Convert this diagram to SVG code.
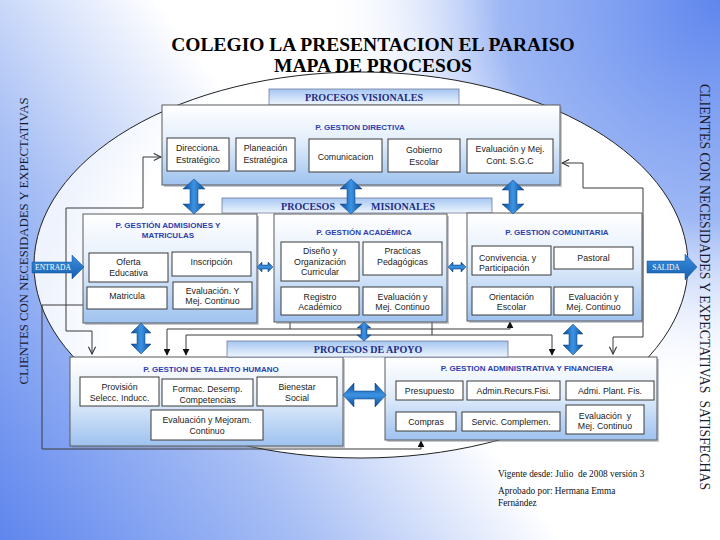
<svg xmlns="http://www.w3.org/2000/svg" width="720" height="540" viewBox="0 0 720 540">
<defs>
<linearGradient id="gBgL" gradientUnits="userSpaceOnUse" x1="0" y1="540" x2="360" y2="270">
<stop offset="0" stop-color="#5f86ee"/><stop offset="0.55" stop-color="#a9c0f5"/><stop offset="1" stop-color="#ffffff"/>
</linearGradient>
<radialGradient id="gBgR" gradientUnits="userSpaceOnUse" cx="720" cy="0" r="400">
<stop offset="0" stop-color="#5f86ee" stop-opacity="1"/><stop offset="0.55" stop-color="#86a6f2" stop-opacity="0.8"/><stop offset="1" stop-color="#ffffff" stop-opacity="0"/>
</radialGradient>
<radialGradient id="gEll" gradientUnits="userSpaceOnUse" cx="400" cy="330" r="360">
<stop offset="0" stop-color="#ffffff"/><stop offset="0.8" stop-color="#ffffff"/><stop offset="1" stop-color="#eef3fd"/>
</radialGradient>
<linearGradient id="gPanel" x1="0" y1="0" x2="0" y2="1">
<stop offset="0" stop-color="#ffffff"/><stop offset="0.45" stop-color="#e3eefb"/><stop offset="1" stop-color="#9ec2ef"/>
</linearGradient>
<linearGradient id="gHdr" x1="0" y1="0" x2="0" y2="1">
<stop offset="0" stop-color="#a6c6f2"/><stop offset="1" stop-color="#eef5fd"/>
</linearGradient>
<linearGradient id="gArrV" x1="0" y1="0" x2="1" y2="0">
<stop offset="0" stop-color="#0a4a96"/><stop offset="0.5" stop-color="#3d94e4"/><stop offset="1" stop-color="#0a4a96"/>
</linearGradient>
<linearGradient id="gArrH" x1="0" y1="0" x2="0" y2="1">
<stop offset="0" stop-color="#0a4a96"/><stop offset="0.5" stop-color="#3d94e4"/><stop offset="1" stop-color="#0a4a96"/>
</linearGradient>
<linearGradient id="gIO" x1="0" y1="0" x2="0" y2="1">
<stop offset="0" stop-color="#3b8fe0"/><stop offset="1" stop-color="#155fae"/>
</linearGradient>
<marker id="ao" viewBox="0 0 10 10" refX="9" refY="5" markerWidth="9" markerHeight="9" markerUnits="userSpaceOnUse" orient="auto-start-reverse">
<path d="M1,1 L9,5 L1,9" fill="none" stroke="#333" stroke-width="1.2"/>
</marker>
<marker id="af" viewBox="0 0 10 10" refX="9" refY="5" markerWidth="7" markerHeight="7" markerUnits="userSpaceOnUse" orient="auto-start-reverse">
<path d="M0,0 L10,5 L0,10 Z" fill="#111"/>
</marker>
<style>
.panel{fill:url(#gPanel);stroke:#5a5a5a;stroke-width:1}
.sh{fill:#7d8799;opacity:0.45}
.box{fill:#ffffff;stroke:#3a3a3a;stroke-width:1}
.t{font-family:"Liberation Sans",Arial,sans-serif;font-size:8.8px;fill:#222;text-anchor:middle}
.tl{font-family:"Liberation Sans",Arial,sans-serif;font-size:8.8px;fill:#222}
.pt{font-family:"Liberation Sans",Arial,sans-serif;font-weight:bold;font-size:8px;fill:#2b3fae;text-anchor:middle}
.hdr{fill:url(#gHdr);stroke:#6d7c9c;stroke-width:0.8}
.ht{font-family:"Liberation Serif","Times New Roman",serif;font-weight:bold;font-size:10px;fill:#1c2c86;text-anchor:middle}
.conn{fill:none;stroke:#3a3a3a;stroke-width:1}
.dv{fill:url(#gArrV);stroke:#0a3d7c;stroke-width:0.5}
.dh{fill:url(#gArrH);stroke:#0a3d7c;stroke-width:0.5}
.io{fill:url(#gIO);stroke:#0f4f95;stroke-width:0.5}
.iot{font-family:"Liberation Serif","Times New Roman",serif;font-size:7.5px;fill:#ffffff;text-anchor:middle}
.side{font-family:"Liberation Serif","Times New Roman",serif;fill:#1a1a2e;text-anchor:middle}
.ttl{font-family:"Liberation Serif","Times New Roman",serif;font-weight:bold;font-size:19.5px;fill:#000;text-anchor:middle}
.foot{font-family:"Liberation Serif","Times New Roman",serif;font-size:9.3px;fill:#111}
</style>
</defs>

<g id="background">
<rect x="0" y="0" width="720" height="540" fill="url(#gBgL)"/>
<rect x="0" y="0" width="720" height="540" fill="url(#gBgR)"/>
<ellipse cx="361" cy="265" rx="327" ry="193" fill="url(#gEll)" stroke="#222" stroke-width="1"/>
</g>

<g id="title">
<text class="ttl" x="373" y="51">COLEGIO LA PRESENTACION EL PARAISO</text>
<text class="ttl" x="373" y="72">MAPA DE PROCESOS</text>
</g>

<g id="side-texts">
<text class="side" font-size="12.8" transform="translate(28,241) rotate(-90)">CLIENTES CON NECESIDADES Y EXPECTATIVAS</text>
<text class="side" font-size="13.8" xml:space="preserve" transform="translate(700,287) rotate(90)">CLIENTES CON NECESIDADES Y EXPECTATIVAS  SATISFECHAS</text>
</g>

<g id="connectors">
<polyline class="conn" points="92,354 92,331 66,331 66,208 143,208 143,157 161,157" marker-start="url(#ao)" marker-end="url(#ao)"/>
<polyline class="conn" points="613,354 613,337 643,337 643,188 583,188 583,163 562,163" marker-start="url(#ao)" marker-end="url(#ao)"/>
<polyline class="conn" points="167,355 167,329 510,329 510,322" marker-start="url(#af)" marker-end="url(#af)"/>
<polyline class="conn" points="290,329 290,322"/>
<polyline class="conn" points="186,355 186,335 552,335 552,355" marker-start="url(#af)" marker-end="url(#af)"/>
<polyline class="conn" points="432,335 432,322"/>
<polyline class="conn" points="83,305 42,305 42,449 421,449 421,441" marker-end="url(#af)"/>
</g>

<g id="hdr-visionales">
<rect class="hdr" x="269" y="89" width="190" height="16"/>
<text class="ht" x="364" y="101">PROCESOS VISIONALES</text>
</g>

<g id="p-directiva">
<rect class="sh" x="164" y="107" width="398" height="80"/>
<rect class="panel" x="162" y="105" width="398" height="80"/>
<text class="pt" x="360" y="130">P. GESTION DIRECTIVA</text>
<rect class="box" x="167" y="138" width="62" height="33"/>
<text class="t" x="198" y="151">Direcciona.</text>
<text class="t" x="198" y="163">Estratégico</text>
<rect class="box" x="236" y="138" width="59" height="33"/>
<text class="t" x="265.5" y="151">Planeación</text>
<text class="t" x="265.5" y="163">Estratégica</text>
<rect class="box" x="309" y="139" width="73" height="33"/>
<text class="t" x="345.5" y="160">Comunicacion</text>
<rect class="box" x="388" y="139" width="72" height="33"/>
<text class="t" x="424" y="153">Gobierno</text>
<text class="t" x="424" y="165">Escolar</text>
<rect class="box" x="467" y="139" width="86" height="34"/>
<text class="t" x="510" y="152">Evaluación y Mej.</text>
<text class="t" x="510" y="164">Cont. S.G.C</text>
</g>

<g id="hdr-misionales">
<rect class="hdr" x="222" y="198" width="270" height="15"/>
<text class="ht" x="308" y="210">PROCESOS</text>
<text class="ht" x="403" y="210">MISIONALES</text>
</g>

<g id="p-admisiones">
<rect class="sh" x="85" y="216" width="174" height="109"/>
<rect class="panel" x="83" y="214" width="174" height="109"/>
<text class="pt" x="168" y="228">P. GESTIÓN ADMISIONES Y</text>
<text class="pt" x="168" y="238">MATRICULAS</text>
<rect class="box" x="89" y="253" width="79" height="29"/>
<text class="t" x="128.5" y="265">Oferta</text>
<text class="t" x="128.5" y="276">Educativa</text>
<rect class="box" x="172" y="252" width="79" height="24"/>
<text class="t" x="211.5" y="265">Inscripción</text>
<rect class="box" x="87" y="287" width="80" height="22"/>
<text class="t" x="127" y="299">Matricula</text>
<rect class="box" x="173" y="282" width="79" height="27"/>
<text class="t" x="212.5" y="294">Evaluación. Y</text>
<text class="t" x="212.5" y="304">Mej. Continuo</text>
</g>

<g id="p-academica">
<rect class="sh" x="276" y="216" width="173" height="108"/>
<rect class="panel" x="274" y="214" width="173" height="108"/>
<text class="pt" x="364" y="235">P. GESTIÓN ACADÉMICA</text>
<rect class="box" x="281" y="242" width="78" height="39"/>
<text class="t" x="320" y="254">Diseño y</text>
<text class="t" x="320" y="265">Organización</text>
<text class="t" x="320" y="275">Curricular</text>
<rect class="box" x="363" y="242" width="79" height="33"/>
<text class="t" x="402.5" y="254">Practicas</text>
<text class="t" x="402.5" y="265">Pedagógicas</text>
<rect class="box" x="281" y="287" width="78" height="28"/>
<text class="t" x="320" y="300">Registro</text>
<text class="t" x="320" y="310">Académico</text>
<rect class="box" x="363" y="287" width="79" height="28"/>
<text class="t" x="402.5" y="300">Evaluación y</text>
<text class="t" x="402.5" y="310">Mej. Continuo</text>
</g>

<g id="p-comunitaria">
<rect class="sh" x="469" y="215" width="175" height="108"/>
<rect class="panel" x="467" y="213" width="175" height="108"/>
<text class="pt" x="557" y="235">P. GESTION COMUNITARIA</text>
<rect class="box" x="472" y="246" width="79" height="29"/>
<text class="tl" x="479" y="261">Convivencia. y</text>
<text class="tl" x="479" y="271">Participación</text>
<rect class="box" x="554" y="247" width="79" height="22"/>
<text class="t" x="593.5" y="261">Pastoral</text>
<rect class="box" x="472" y="287" width="79" height="28"/>
<text class="t" x="511.5" y="300">Orientación</text>
<text class="t" x="511.5" y="310">Escolar</text>
<rect class="box" x="554" y="287" width="79" height="28"/>
<text class="t" x="593.5" y="300">Evaluación y</text>
<text class="t" x="593.5" y="310">Mej. Continuo</text>
</g>

<g id="p-talento">
<rect class="sh" x="72" y="359" width="273" height="89"/>
<rect class="panel" x="70" y="357" width="273" height="89"/>
<text class="pt" x="211" y="372">P. GESTION DE TALENTO HUMANO</text>
<rect class="box" x="80" y="377" width="79" height="29"/>
<text class="t" x="119.5" y="390">Provisión</text>
<text class="t" x="119.5" y="401">Selecc. Inducc.</text>
<rect class="box" x="162" y="379" width="91" height="27"/>
<text class="t" x="207.5" y="392">Formac. Desemp.</text>
<text class="t" x="207.5" y="403">Competencias</text>
<rect class="box" x="257" y="377" width="80" height="29"/>
<text class="t" x="297" y="390">Bienestar</text>
<text class="t" x="297" y="401">Social</text>
<rect class="box" x="151" y="410" width="112" height="30"/>
<text class="t" x="207" y="423">Evaluación y Mejoram.</text>
<text class="t" x="207" y="434">Continuo</text>
</g>

<g id="p-administrativa">
<rect class="sh" x="387" y="359" width="272" height="83"/>
<rect class="panel" x="385" y="357" width="272" height="83"/>
<text class="pt" x="527" y="371">P. GESTION ADMINISTRATIVA Y FINANCIERA</text>
<rect class="box" x="396" y="381" width="67" height="19"/>
<text class="t" x="429.5" y="393.5">Presupuesto</text>
<rect class="box" x="467" y="381" width="93" height="19"/>
<text class="t" x="513.5" y="393.5">Admin.Recurs.Fisi.</text>
<rect class="box" x="566" y="381" width="88" height="19"/>
<text class="t" x="610" y="393.5">Admi. Plant. Fis.</text>
<rect class="box" x="396" y="412" width="60" height="19"/>
<text class="t" x="426" y="424.5">Compras</text>
<rect class="box" x="462" y="412" width="98" height="19"/>
<text class="t" x="511" y="424.5">Servic. Complemen.</text>
<rect class="box" x="566" y="405" width="78" height="29"/>
<text class="t" x="605" y="419" xml:space="preserve">Evaluación  y</text>
<text class="t" x="605" y="429">Mej. Continuo</text>
</g>

<g id="hdr-apoyo">
<rect class="hdr" x="227" y="341" width="281" height="16"/>
<text class="ht" x="368" y="353">PROCESOS DE APOYO</text>
</g>

<g id="entrada">
<path class="io" d="M32,262 H72 V255 L84,267 L72,279 V273 H32 Z"/>
<text class="iot" x="53" y="270">ENTRADA</text>
</g>
<g id="salida">
<path class="io" d="M647,261 H685 V254 L697,267 L685,280 V273 H647 Z"/>
<text class="iot" x="666" y="270">SALIDA</text>
</g>

<g id="double-arrows">
<path class="dv" d="M194,179 L205,189 L198,189 L198,204 L205,204 L194,214 L183,204 L190,204 L190,189 L183,189 Z"/>
<path class="dv" d="M351,179 L362,189 L355,189 L355,204 L362,204 L351,214 L340,204 L347,204 L347,189 L340,189 Z"/>
<path class="dv" d="M513,180 L524,190 L517,190 L517,204 L524,204 L513,214 L502,204 L509,204 L509,190 L502,190 Z"/>
<path class="dv" d="M141,323 L151,333 L145,333 L145,344 L151,344 L141,354 L131,344 L137,344 L137,333 L131,333 Z"/>
<path class="dv" d="M364,322 L371,328 L367,328 L367,335 L371,335 L364,341 L357,335 L361,335 L361,328 L357,328 Z"/>
<path class="dv" d="M573,324 L583,334 L577,334 L577,345 L583,345 L573,355 L563,345 L569,345 L569,334 L563,334 Z"/>
<path class="dh" d="M343,395 L354,383 L354,391 L375,391 L375,383 L386,395 L375,407 L375,399 L354,399 L354,407 Z"/>
<path class="dh" d="M257,267 L262,262 L262,265 L268,265 L268,262 L273,267 L268,272 L268,269 L262,269 L262,272 Z"/>
<path class="dh" d="M448,267 L453,262 L453,265 L461,265 L461,262 L466,267 L461,272 L461,269 L453,269 L453,272 Z"/>
</g>

<g id="footer">
<text class="foot" x="498" y="477" xml:space="preserve">Vigente desde: Julio  de 2008 versión 3</text>
<text class="foot" x="498" y="494">Aprobado por: Hermana Emma</text>
<text class="foot" x="498" y="506">Fernández</text>
</g>
</svg>
